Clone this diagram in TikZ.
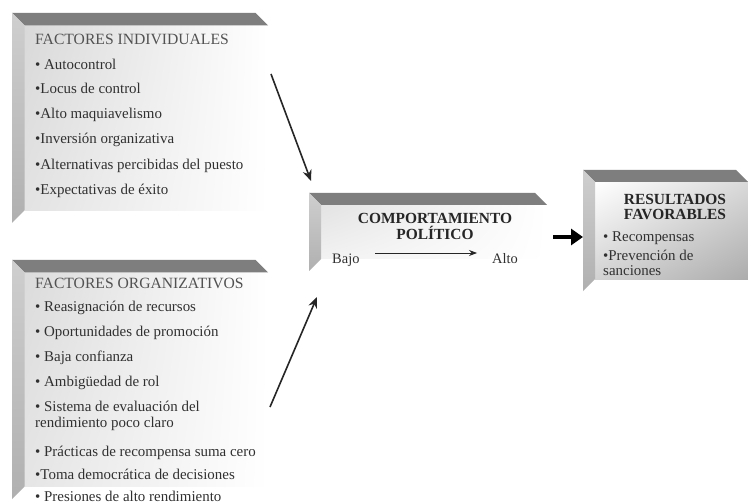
\documentclass[tikz,border=0pt]{standalone}
\usepackage{fontspec}
\setmainfont{Liberation Serif}
\usetikzlibrary{arrows.meta,shadings}

\definecolor{inkgray}{HTML}{303030}
\definecolor{bevtop}{HTML}{7E7E7E}

\tikzset{
  topbevel/.style={fill=bevtop},
  sidebevel/.style={top color=gray!38, bottom color=gray!62},
  listtext/.style={anchor=base west, inner sep=0pt, text=inkgray,
    font=\fontsize{15}{17}\selectfont},
  smalltext/.style={listtext, font=\fontsize{14.5}{16}\selectfont},
  headtext/.style={listtext, text=black!68, font=\fontsize{15.7}{17}\selectfont},
  boldhead/.style={inner sep=0pt, align=center, text=black!85,
    font=\fontsize{15.5}{16}\selectfont\bfseries},
  flow/.style={-{Stealth[length=11bp,width=9bp]}, line width=1.6bp, black!85},
  scalearrow/.style={-{Stealth[length=8bp,width=6bp]}, line width=0.8bp, black!85},
  bigarrow/.style={-{Triangle[length=12bp,width=16bp]}, line width=4bp, black},
}

% bevelled panel: #1 left, #2 top, #3 right, #4 bottom of the side strip,
% #5 bevel depth, #6 shading of the front face
\newcommand\bevelbox[6]{%
  \shade[#6] ({#1+#5},{#2+#5}) rectangle (#3,{#4-#5});
  \fill[topbevel] (#1,#2) -- ({#3-#5},#2) -- (#3,{#2+#5}) -- ({#1+#5},{#2+#5}) -- cycle;
  \shade[sidebevel] (#1,#2) -- ({#1+#5},{#2+#5}) -- ({#1+#5},{#4-#5}) -- (#1,#4) -- cycle;
}

\begin{document}
\begin{tikzpicture}[x=1bp,y=-1bp]
\useasboundingbox[fill=white] (0,0) rectangle (748,504);

% panels
\bevelbox{12}{13}{268}{223}{12.5}{upper left=gray!30, lower left=gray!22, upper right=white, lower right=white}
\bevelbox{12}{260}{268}{499}{12.5}{upper left=gray!28, lower left=gray!20, upper right=white, lower right=white}
\bevelbox{309}{193}{547}{271}{12}{upper left=gray!22, lower left=gray!10, upper right=white, lower right=white}
\bevelbox{583}{170}{748}{291}{12}{upper left=white, lower left=gray!35, upper right=gray!30, lower right=gray!65}

% individual factors
\node[headtext] (indh) at (35,45) {FACTORES INDIVIDUALES};
\node[listtext] (ind1) at (35,70) {• Autocontrol};
\node[listtext] (ind2) at (35,94) {•Locus de control};
\node[listtext] (ind3) at (35,119) {•Alto maquiavelismo};
\node[listtext] (ind4) at (35,144) {•Inversión organizativa};
\node[listtext] (ind5) at (35,170) {•Alternativas percibidas del puesto};
\node[listtext] (ind6) at (35,195) {•Expectativas de éxito};

% organizational factors
\node[headtext] (orgh) at (35,289) {FACTORES ORGANIZATIVOS};
\node[listtext] (org1) at (35,311) {• Reasignación de recursos};
\node[listtext] (org2) at (35,336) {• Oportunidades de promoción};
\node[listtext] (org3) at (35,361) {• Baja confianza};
\node[listtext] (org4) at (35,386) {• Ambigüedad de rol};
\node[listtext] (org5) at (35,411) {• Sistema de evaluación del};
\node[listtext] (org5b) at (35,427) {rendimiento poco claro};
\node[listtext] (org6) at (35,456) {• Prácticas de recompensa suma cero};
\node[listtext] (org7) at (35,479) {•Toma democrática de decisiones};
\node[listtext] (org8) at (35,501) {• Presiones de alto rendimiento};

% political behaviour
\node[boldhead] (comph) at (435,226) {COMPORTAMIENTO\\POLÍTICO};
\node[smalltext] (bajo) at (332,264) {Bajo};
\node[smalltext] (alto) at (492,264) {Alto};
\coordinate (scaleA) at (375,253);
\coordinate (scaleB) at (477,253);
\draw[scalearrow] (scaleA) -- (scaleB);

% favourable outcomes
\node[boldhead] (resh) at (675,207) {RESULTADOS\\FAVORABLES};
\node[listtext] (res1) at (603,242) {• Recompensas};
\node[listtext] (res2) at (603,261) {•Prevención de};
\node[listtext] (res2b) at (603,276) {sanciones};

% connectors
\coordinate (indout) at (271,74);
\coordinate (compin1) at (311,181);
\coordinate (orgout) at (270,407);
\coordinate (compin2) at (317,297);
\coordinate (compout) at (553,237);
\coordinate (resin) at (583,237);
\draw[flow] (indout) -- (compin1);
\draw[flow] (orgout) -- (compin2);
\draw[bigarrow] (compout) -- (resin);
\end{tikzpicture}
\end{document}
